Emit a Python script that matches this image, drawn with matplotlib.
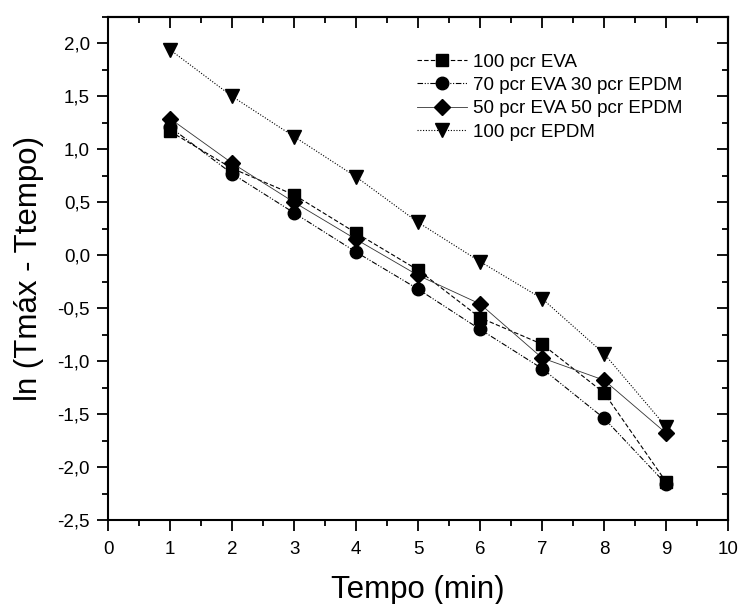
import matplotlib
matplotlib.use("Agg")
import matplotlib.pyplot as plt
from matplotlib.ticker import MultipleLocator, FuncFormatter

plt.rcParams["font.family"] = ["Liberation Sans", "DejaVu Sans"]

# time points (min)
tempo = [1, 2, 3, 4, 5, 6, 7, 8, 9]

# ln(Tmax - Ttempo) for each blend
eva100 = [1.17, 0.82, 0.57, 0.21, -0.14, -0.59, -0.84, -1.30, -2.14]
eva70_epdm30 = [1.21, 0.77, 0.40, 0.03, -0.32, -0.70, -1.07, -1.54, -2.16]
eva50_epdm50 = [1.29, 0.87, 0.50, 0.15, -0.19, -0.46, -0.97, -1.18, -1.68]
epdm100 = [1.94, 1.50, 1.12, 0.74, 0.31, -0.06, -0.41, -0.93, -1.62]

labels = ["100 pcr EVA", "70 pcr EVA 30 pcr EPDM",
          "50 pcr EVA 50 pcr EPDM", "100 pcr EPDM"]

fig = plt.figure(figsize=(7.4, 6.04), dpi=100)
ax = fig.add_axes([0.146, 0.139, 0.838, 0.833])

lw = 0.8
ax.plot(tempo, eva100, color="black", lw=lw, linestyle=(0, (4, 2)),
        marker="s", markersize=8, label=labels[0])
ax.plot(tempo, eva70_epdm30, color="black", lw=lw,
        linestyle=(0, (5, 1.5, 1, 1.5, 1, 1.5)),
        marker="o", markersize=9, label=labels[1])
ax.plot(tempo, eva50_epdm50, color="#333333", lw=0.6, linestyle="-",
        marker="D", markersize=8, markerfacecolor="black",
        markeredgecolor="black", label=labels[2])
ax.plot(tempo, epdm100, color="black", lw=lw, linestyle=(0, (1, 1.5)),
        marker="v", markersize=10, label=labels[3])

ax.set_xlim(0, 10)
ax.set_ylim(-2.5, 2.25)
ax.xaxis.set_major_locator(MultipleLocator(1))
ax.xaxis.set_minor_locator(MultipleLocator(0.5))
ax.yaxis.set_major_locator(MultipleLocator(0.5))
ax.yaxis.set_minor_locator(MultipleLocator(0.25))

comma = FuncFormatter(lambda v, p: f"{v:.1f}".replace(".", ","))
ax.yaxis.set_major_formatter(comma)
ax.xaxis.set_major_formatter(FuncFormatter(lambda v, p: f"{v:.0f}"))

for s in ax.spines.values():
    s.set_linewidth(1.5)

ax.tick_params(which="both", direction="out", width=1.3, labelsize=13.5,
               top=False, right=False, pad=5)
ax.tick_params(axis="x", pad=7)
ax.tick_params(which="major", length=8)
ax.tick_params(which="minor", length=4)

# inward ticks on the top and right
sec_x = ax.secondary_xaxis("top")
sec_x.xaxis.set_major_locator(MultipleLocator(1))
sec_x.xaxis.set_minor_locator(MultipleLocator(0.5))
sec_x.tick_params(which="both", direction="in", width=1.3, labeltop=False)
sec_x.tick_params(which="major", length=8)
sec_x.tick_params(which="minor", length=4)
sec_x.spines["top"].set_linewidth(1.5)

sec_y = ax.secondary_yaxis("right")
sec_y.yaxis.set_major_locator(MultipleLocator(0.5))
sec_y.yaxis.set_minor_locator(MultipleLocator(0.25))
sec_y.tick_params(which="both", direction="in", width=1.3, labelright=False)
sec_y.tick_params(which="major", length=8)
sec_y.tick_params(which="minor", length=4)
sec_y.spines["right"].set_linewidth(1.5)

ax.set_xlabel("Tempo (min)", fontsize=22.5, labelpad=12)
ax.set_ylabel("ln (Tmáx - Ttempo)", fontsize=22.5, labelpad=10)

ax.legend(loc="upper left", bbox_to_anchor=(0.486, 0.942), frameon=False,
          fontsize=13.5, handlelength=2.67, handletextpad=0.32,
          labelspacing=0.33, borderaxespad=0)

fig.savefig("out.png", dpi=100)
